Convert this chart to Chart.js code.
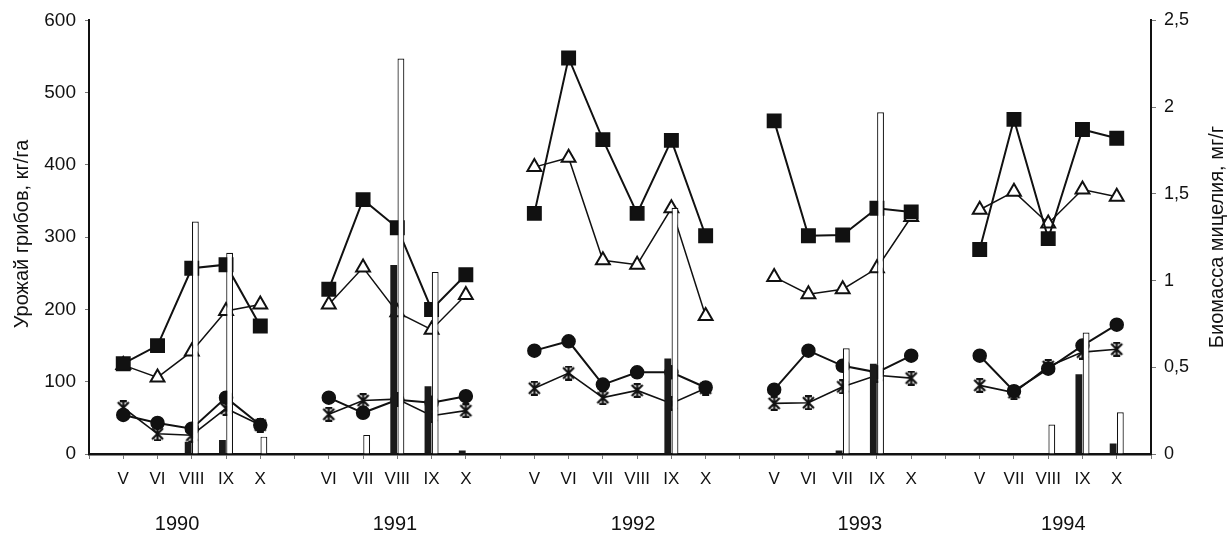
<!DOCTYPE html>
<html>
<head>
<meta charset="utf-8">
<script src="https://cdn.jsdelivr.net/npm/chart.js@4.4.0/dist/chart.umd.min.js"></script>
<style>
html, body { margin: 0; padding: 0; background: #fff; }
#wrap { width: 1227px; height: 537px; position: relative; }
</style>
</head>
<body>
<div id="wrap"><canvas id="chart"></canvas></div>
<script>
// ---- data ----
const months = ['', 'V', 'VI', 'VIII', 'IX', 'X', '', 'VI', 'VII', 'VIII', 'IX', 'X', '',
  'V', 'VI', 'VII', 'VIII', 'IX', 'X', '', 'V', 'VI', 'VII', 'IX', 'X', '',
  'V', 'VII', 'VIII', 'IX', 'X', ''];
const years = ['1990', '1991', '1992', '1993', '1994'];
const yearPos = [2.57, 8.93, 15.88, 22.5, 28.44];

// урожай, кг/га (левая ось)
const squares = [null, 125, 150, 257, 262, 177, null, 228, 352, 313, 200, 248, null,
  333, 548, 435, 333, 434, 302, null, 461, 302, 303, 340, 335, null,
  283, 463, 298, 449, 437, null];
const triangles = [null, 123, 106, 142, 198, 207, null, 207, 258, 196, 172, 220, null,
  397, 410, 268, 262, 340, 191, null, 245, 221, 228, 257, 328, null,
  338, 363, 319, 366, 356, null];
const circles = [null, 54, 43, 35, 78, 40, null, 78, 57, 75, 71, 80, null,
  143, 156, 96, 113, 113, 92, null, 89, 143, 122, 113, 136, null,
  136, 87, 118, 150, 179, null];
const stars = [null, 64, 28, 26, 63, 40, null, 55, 74, 76, 53, 60, null,
  91, 112, 78, 88, 70, 91, null, 70, 71, 93, 109, 105, null,
  95, 85, 121, 141, 145, null];

// биомасса мицелия, мг/г (правая ось)
const darkBars = [null, null, null, 0.07, 0.08, null, null, null, null, 1.09, 0.39, 0.02, null,
  null, null, null, null, 0.55, null, null, null, null, 0.02, 0.52, null, null,
  null, null, null, 0.46, 0.06, null];
const whiteBars = [null, null, null, 1.34, 1.16, 0.1, null, null, 0.11, 2.28, 1.05, null, null,
  null, null, null, null, 1.42, null, null, null, null, 0.61, 1.97, null, null,
  null, null, 0.17, 0.7, 0.24, null];

const leftTitle = 'Урожай грибов, кг/га';
const rightTitle = 'Биомасса мицелия, мг/г';

const FONT = '"Liberation Sans", Arial, sans-serif';
const INK = '#111111';

// asterisk marker (X with a vertical stroke)
const starMark = document.createElement('canvas');
starMark.width = 15;
starMark.height = 15;
(function () {
  const g = starMark.getContext('2d');
  g.strokeStyle = INK;
  g.lineWidth = 2.2;
  g.beginPath();
  g.moveTo(2, 2); g.lineTo(13, 13);
  g.moveTo(13, 2); g.lineTo(2, 13);
  g.moveTo(7.5, 0.5); g.lineTo(7.5, 14.5);
  g.moveTo(4, 1.2); g.lineTo(11, 1.2);
  g.moveTo(4, 13.8); g.lineTo(11, 13.8);
  g.stroke();
})();

// year labels and rotated axis titles
const extraText = {
  id: 'extraText',
  afterDraw(chart) {
    const ctx = chart.ctx;
    const xs = chart.scales.x;
    ctx.save();
    ctx.fillStyle = '#111';
    ctx.textAlign = 'center';
    ctx.textBaseline = 'middle';
    ctx.font = '20px ' + FONT;
    years.forEach((y, i) => ctx.fillText(y, xs.getPixelForValue(yearPos[i]), 524));

    ctx.font = '20px ' + FONT;
    ctx.save();
    ctx.translate(22, 234);
    ctx.rotate(-Math.PI / 2);
    ctx.fillText(leftTitle, 0, 0);
    ctx.restore();

    ctx.save();
    ctx.translate(1217, 237);
    ctx.rotate(-Math.PI / 2);
    ctx.fillText(rightTitle, 0, 0);
    ctx.restore();
    ctx.restore();
  }
};

function lineSet(data, style, radius, fill, width, pointBorder) {
  return {
    type: 'line',
    data: data,
    yAxisID: 'y',
    order: 1,
    borderColor: INK,
    borderWidth: width,
    pointStyle: style,
    pointRadius: radius,
    pointBackgroundColor: fill,
    pointBorderColor: INK,
    pointBorderWidth: pointBorder,
    tension: 0,
    spanGaps: false
  };
}

new Chart(document.getElementById('chart'), {
  data: {
    labels: months,
    datasets: [
      {
        type: 'bar', data: darkBars, yAxisID: 'y1', order: 0,
        backgroundColor: '#1a1a1a', borderColor: '#1a1a1a', borderWidth: 0,
        categoryPercentage: 0.42, barPercentage: 0.95
      },
      {
        type: 'bar', data: whiteBars, yAxisID: 'y1', order: 0,
        backgroundColor: '#ffffff', borderColor: INK, borderWidth: 1.2,
        categoryPercentage: 0.42, barPercentage: 0.95
      },
      lineSet(squares, 'rect', 9.5, INK, 2, 1.5),
      lineSet(triangles, 'triangle', 8, '#ffffff', 1.5, 2),
      lineSet(circles, 'circle', 6.5, INK, 2, 1.5),
      lineSet(stars, starMark, 7, INK, 1.6, 1.5)
    ]
  },
  options: {
    responsive: true,
    maintainAspectRatio: false,
    animation: false,
    layout: { padding: { top: 20, left: 0, right: 0, bottom: 0 } },
    plugins: {
      legend: { display: false },
      tooltip: { enabled: false }
    },
    scales: {
      x: {
        type: 'category',
        offset: false,
        afterFit: s => { s.height = 83; },
        grid: { display: true, offset: false, drawOnChartArea: false, drawTicks: true, tickLength: 5, color: '#777' },
        border: { display: true, color: INK, width: 2.5 },
        ticks: {
          autoSkip: false, maxRotation: 0, minRotation: 0, padding: 10,
          color: '#111', font: { family: FONT, size: 17 }
        }
      },
      y: {
        position: 'left',
        min: 0, max: 600,
        afterFit: s => { s.width = 89; },
        grid: { display: true, drawOnChartArea: false, drawTicks: true, tickLength: 4, color: '#777' },
        border: { display: true, color: INK, width: 2 },
        ticks: {
          stepSize: 100, padding: 9,
          color: '#111', font: { family: FONT, size: 19 }
        }
      },
      y1: {
        position: 'right',
        min: 0, max: 2.5,
        afterFit: s => { s.width = 76; },
        grid: { display: true, drawOnChartArea: false, drawTicks: true, tickLength: 5, color: '#777' },
        border: { display: true, color: INK, width: 2 },
        ticks: {
          stepSize: 0.5, padding: 8,
          color: '#111', font: { family: FONT, size: 18 },
          callback: v => String(v).replace('.', ',')
        }
      }
    }
  },
  plugins: [extraText]
});
</script>
</body>
</html>
